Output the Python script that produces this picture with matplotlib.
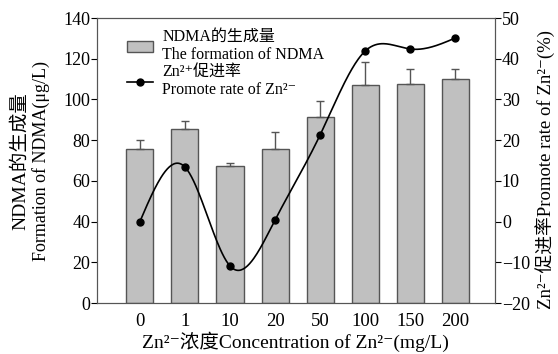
import numpy as np
import matplotlib
matplotlib.use("Agg")
import matplotlib.pyplot as plt
from matplotlib.patches import Patch
from matplotlib.lines import Line2D

plt.rcParams['font.family'] = ['Liberation Serif', 'Noto Sans CJK SC', 'DejaVu Serif']

categories = ['0', '1', '10', '20', '50', '100', '150', '200']
ndma = [75.6, 85.5, 67.3, 75.8, 91.4, 107.0, 107.6, 110.0]
ndma_err = [4.5, 4.0, 1.5, 8.0, 8.0, 11.2, 7.5, 5.2]
promote = [0.0, 13.4, -10.9, 0.4, 21.3, 41.9, 42.4, 45.1]


def natural_spline(x, y, xs):
    x = np.asarray(x, float); y = np.asarray(y, float)
    n = len(x)
    h = np.diff(x)
    A = np.zeros((n, n)); b = np.zeros(n)
    A[0, 0] = 1; A[-1, -1] = 1
    for i in range(1, n - 1):
        A[i, i - 1] = h[i - 1]
        A[i, i] = 2 * (h[i - 1] + h[i])
        A[i, i + 1] = h[i]
        b[i] = 3 * ((y[i + 1] - y[i]) / h[i] - (y[i] - y[i - 1]) / h[i - 1])
    c = np.linalg.solve(A, b)
    out = np.empty_like(xs)
    for k, xv in enumerate(xs):
        i = min(max(np.searchsorted(x, xv) - 1, 0), n - 2)
        dx = xv - x[i]
        bi = (y[i + 1] - y[i]) / h[i] - h[i] * (2 * c[i] + c[i + 1]) / 3
        di = (c[i + 1] - c[i]) / (3 * h[i])
        out[k] = y[i] + bi * dx + c[i] * dx ** 2 + di * dx ** 3
    return out


fig = plt.figure(figsize=(5.58, 3.54), dpi=100)
ax = fig.add_axes([0.174, 0.144, 0.713, 0.805])
x = np.arange(len(categories))
ax.bar(x, ndma, width=0.6, color='#c0c0c0', edgecolor='#555555', linewidth=1.0, zorder=2)
ax.errorbar(x, ndma, yerr=[np.zeros(len(x)), ndma_err], fmt='none', ecolor='#555555',
            elinewidth=1.0, capsize=3, capthick=1.0, zorder=3)
ax.set_xlim(-0.95, 7.88)
ax.set_ylim(0, 140)
ax.set_yticks(range(0, 141, 20))
ax.set_xticks(x)
ax.set_xticklabels(categories)
ax.tick_params(axis='x', length=0, labelsize=13.5, pad=7)
ax.tick_params(axis='y', direction='out', length=4, labelsize=13, pad=1)
for s in ax.spines.values():
    s.set_color('#555555')

ax2 = ax.twinx()
ax2.set_ylim(-20, 50)
ax2.set_yticks(range(-20, 51, 10))
ax2.tick_params(axis='y', direction='out', length=4, labelsize=13, pad=1)
xs = np.linspace(0, 7, 300)
ax2.plot(xs, natural_spline(x, promote, xs), color='black', linewidth=1.2, zorder=4)
ax2.plot(x, promote, 'o', color='black', markersize=5, zorder=5)
for s in ax2.spines.values():
    s.set_color('#555555')

handles = [Patch(facecolor='#c0c0c0', edgecolor='#555555'),
           Line2D([0], [0], color='black', marker='o', markersize=5, linewidth=1.2)]
labels = ['NDMA的生成量\nThe formation of NDMA', 'Zn²⁺促进率\nPromote rate of Zn²⁻']
ax2.legend(handles, labels, loc='upper left', bbox_to_anchor=(0.055, 0.99), frameon=False,
           fontsize=11.5, handlelength=1.6, labelspacing=0.05, handletextpad=0.6,
           borderaxespad=0.1)

fig.text(0.036, 0.545, 'NDMA的生成量', rotation=90, ha='center', va='center', fontsize=14)
fig.text(0.074, 0.545, 'Formation of NDMA(μg/L)', rotation=90, ha='center', va='center', fontsize=13)
fig.text(0.976, 0.52, 'Zn²⁻促进率Promote rate of Zn²⁻(%)', rotation=90, ha='center', va='center', fontsize=13.5)
fig.text(0.53, 0.035, 'Zn²⁻浓度Concentration of Zn²⁻(mg/L)', ha='center', va='center', fontsize=14)

fig.savefig('out.png', dpi=100)
